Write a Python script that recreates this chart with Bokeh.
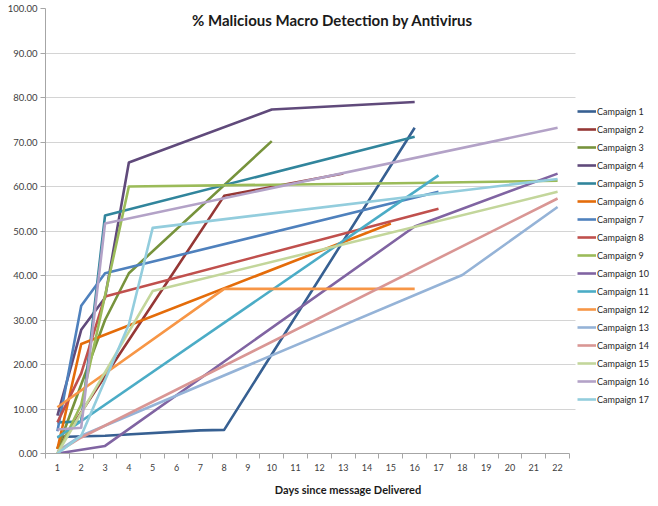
from bokeh.plotting import figure
from bokeh.models import (FixedTicker, NumeralTickFormatter, Legend, LegendItem, Label, Range1d,
                          BoxAnnotation)
from bokeh.embed import file_html
from bokeh.resources import INLINE

title_text = "% Malicious Macro Detection by Antivirus"
x_label = "Days since message Delivered"
day_ticks = list(range(1, 23))
y_ticks = [0, 10, 20, 30, 40, 50, 60, 70, 80, 90, 100]

campaign_names = ["Campaign %d" % i for i in range(1, 18)]
campaign_colors = ["#376092", "#953735", "#77933C", "#604A7B", "#31859C", "#E46C0A",
                   "#4F81BD", "#C0504D", "#9BBB59", "#8064A2", "#4BACC6", "#F79646",
                   "#95B3D7", "#D99694", "#C3D69B", "#B3A2C7", "#93CDDD"]

c1_days = [1, 3, 7, 8, 16]
c1_pct = [3.7, 4.0, 5.2, 5.3, 73.2]
c2_days = [1, 8, 13]
c2_pct = [1.2, 57.9, 62.9]
c3_days = [1, 3, 4, 10]
c3_pct = [1.0, 30.0, 40.5, 70.2]
c4_days = [1, 2, 3, 4, 10, 16]
c4_pct = [8.5, 27.8, 35.0, 65.4, 77.3, 79.0]
c5_days = [1, 2, 3, 16]
c5_pct = [7.0, 7.2, 53.5, 71.2]
c6_days = [1, 2, 15]
c6_pct = [1.0, 24.6, 51.7]
c7_days = [1, 2, 3, 17]
c7_pct = [5.0, 33.2, 40.5, 58.8]
c8_days = [1, 2, 3, 17]
c8_pct = [7.0, 18.0, 35.3, 55.0]
c9_days = [1, 2, 4, 16, 22]
c9_pct = [0.0, 11.0, 60.0, 60.8, 61.3]
c10_days = [1, 3, 16, 22]
c10_pct = [0.0, 1.7, 51.0, 62.9]
c11_days = [1, 17]
c11_pct = [3.6, 62.5]
c12_days = [1, 8, 16]
c12_pct = [10.4, 37.0, 37.0]
c13_days = [1, 2, 18, 22]
c13_pct = [0.5, 4.0, 40.1, 55.4]
c14_days = [1, 2, 22]
c14_pct = [0.3, 3.6, 57.3]
c15_days = [1, 5, 22]
c15_pct = [0.0, 36.5, 58.8]
c16_days = [1, 2, 3, 22]
c16_pct = [5.4, 5.8, 51.7, 73.2]
c17_days = [1, 2, 4, 5, 22]
c17_pct = [0.0, 4.0, 29.0, 50.7, 61.7]

all_days = [c1_days, c2_days, c3_days, c4_days, c5_days, c6_days, c7_days, c8_days, c9_days,
            c10_days, c11_days, c12_days, c13_days, c14_days, c15_days, c16_days, c17_days]
all_pct = [c1_pct, c2_pct, c3_pct, c4_pct, c5_pct, c6_pct, c7_pct, c8_pct, c9_pct,
           c10_pct, c11_pct, c12_pct, c13_pct, c14_pct, c15_pct, c16_pct, c17_pct]

FONT = "Lato"
DAY_PX = 524 / 22.0
X_END = 0.5 + 605 / DAY_PX

p = figure(width=650, height=498, output_backend="svg", toolbar_location=None,
           x_range=Range1d(0.5, X_END), y_range=Range1d(0, 100),
           min_border_left=45, min_border_top=8, min_border_bottom=44, min_border_right=0)
p.outline_line_color = None
p.background_fill_color = "white"
p.border_fill_color = "white"

# axes
p.xaxis.bounds = (0.5, 22.5)
p.xaxis.ticker = FixedTicker(ticks=day_ticks, minor_ticks=[d - 0.5 for d in day_ticks] + [22.5])
p.xaxis.major_tick_line_color = None
p.xaxis.minor_tick_out = 5
p.xaxis.minor_tick_in = 0
p.xaxis.minor_tick_line_color = "#a6a6a6"
p.xaxis.axis_line_color = "#a6a6a6"
p.xaxis.major_label_text_font = FONT
p.xaxis.major_label_text_font_size = "9px"
p.xaxis.major_label_text_color = "#404040"
p.xaxis.major_label_standoff = 4
p.xaxis.axis_label = x_label
p.xaxis.axis_label_text_font = FONT
p.xaxis.axis_label_text_font_style = "bold"
p.xaxis.axis_label_text_font_size = "11px"
p.xaxis.axis_label_text_color = "#1a1a1a"
p.xaxis.axis_label_standoff = 9

p.yaxis.ticker = FixedTicker(ticks=y_ticks)
p.yaxis.formatter = NumeralTickFormatter(format="0.00")
p.yaxis.minor_tick_line_color = None
p.yaxis.major_tick_out = 5
p.yaxis.major_tick_in = 0
p.yaxis.major_tick_line_color = "#a6a6a6"
p.yaxis.axis_line_color = "#a6a6a6"
p.yaxis.major_label_text_font = FONT
p.yaxis.major_label_text_font_size = "9.5px"
p.yaxis.major_label_text_color = "#404040"
p.yaxis.major_label_standoff = 3

p.xgrid.grid_line_color = None
p.ygrid.grid_line_color = "#d4d4d4"
p.ygrid.grid_line_width = 1

items = []
for name, color, d, v in zip(campaign_names, campaign_colors, all_days, all_pct):
    r = p.line(d, v, line_color=color, line_width=2.6, line_join="round")
    items.append(LegendItem(label=name, renderers=[r]))

# blank the area right of the plot region (legend area)
p.add_layout(BoxAnnotation(left=22.5 + 6 / DAY_PX, fill_color="white", fill_alpha=1.0,
                           line_color=None))

legend = Legend(items=items, location=(532, 47), margin=0, padding=0, spacing=4,
                glyph_width=19, glyph_height=14, label_height=14, label_standoff=1,
                label_text_font=FONT, label_text_font_size="9px", label_text_color="#262626",
                border_line_color=None, background_fill_alpha=0)
p.add_layout(legend, "center")

p.add_layout(Label(x=12.55, y=97.4, text=title_text, text_align="center", text_baseline="middle",
                   text_font=FONT, text_font_style="bold", text_font_size="15px",
                   text_color="#1a1a1a"))

open("out.html", "w").write(file_html(p, INLINE))
